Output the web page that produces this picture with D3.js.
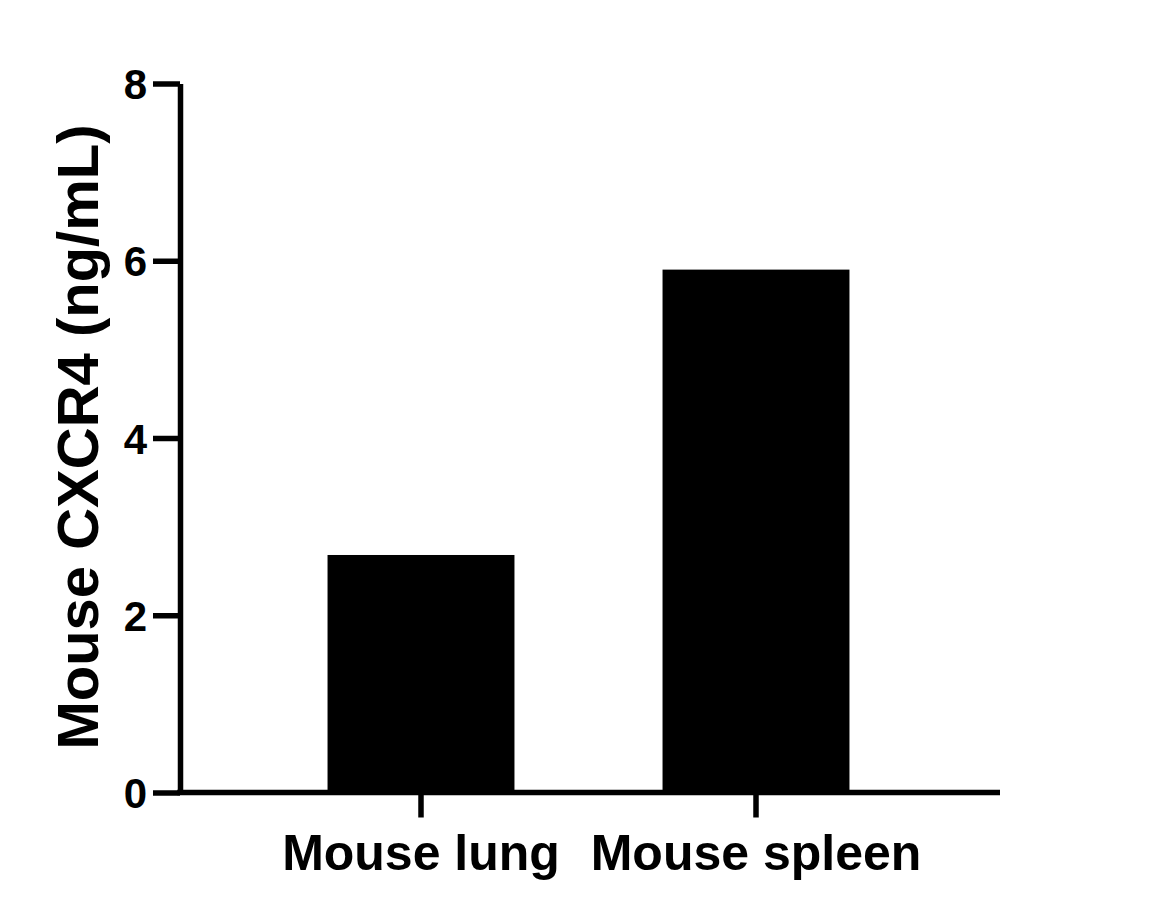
<!DOCTYPE html>
<html>
<head>
<meta charset="utf-8">
<script src="https://cdn.jsdelivr.net/npm/d3@7"></script>
<style>
  html, body { margin: 0; padding: 0; background: #fff; }
  svg { display: block; }
</style>
</head>
<body>
<svg id="chart" width="1150" height="919"></svg>
<script>
const categories = ["Mouse lung", "Mouse spleen"];
const values = [2.68, 5.90];
const yTicks = [0, 2, 4, 6, 8];
const yTitle = "Mouse CXCR4 (ng/mL)";

const svg = d3.select("#chart");
const font = "'Liberation Sans', Arial, Helvetica, sans-serif";

const y = d3.scaleLinear().domain([0, 8]).range([792.5, 83.5]);
const x = d3.scaleBand()
  .domain(categories)
  .range([253.5, 923.5])
  .paddingInner(0.442)
  .paddingOuter(0.221);

// bars
svg.append("g").selectAll("rect")
  .data(categories.map((c, i) => ({ c, v: values[i] })))
  .join("rect")
  .attr("x", d => x(d.c))
  .attr("width", x.bandwidth())
  .attr("y", d => y(d.v))
  .attr("height", d => y(0) - y(d.v))
  .attr("fill", "#000");

// y axis
const yAxis = svg.append("g")
  .attr("transform", "translate(180,0)")
  .call(d3.axisLeft(y).tickValues(yTicks).tickSize(27).tickSizeOuter(0).tickPadding(6));
yAxis.select(".domain").attr("stroke", "#000").attr("stroke-width", 5.5);
yAxis.selectAll(".tick line").attr("stroke", "#000").attr("stroke-width", 5.5);
yAxis.selectAll(".tick text")
  .attr("font-family", font)
  .attr("font-weight", "bold")
  .attr("font-size", 42)
  .attr("fill", "#000")
  .attr("dy", "0.36em");

// x axis
const xAxis = svg.append("g")
  .attr("transform", "translate(0,792.5)")
  .call(d3.axisBottom(x).tickSize(25).tickSizeOuter(0).tickPadding(17));
xAxis.select(".domain").remove();
xAxis.selectAll(".tick line").attr("stroke", "#000").attr("stroke-width", 5.5);
xAxis.selectAll(".tick text")
  .attr("font-family", font)
  .attr("font-weight", "bold")
  .attr("font-size", 50)
  .attr("fill", "#000");
xAxis.append("line")
  .attr("x1", 177.25).attr("x2", 1000)
  .attr("y1", 0).attr("y2", 0)
  .attr("stroke", "#000").attr("stroke-width", 5.5);

// y title
svg.append("text")
  .attr("transform", "translate(98,437) rotate(-90)")
  .attr("text-anchor", "middle")
  .attr("font-family", font)
  .attr("font-weight", "bold")
  .attr("font-size", 58)
  .attr("fill", "#000")
  .text(yTitle);
</script>
</body>
</html>
